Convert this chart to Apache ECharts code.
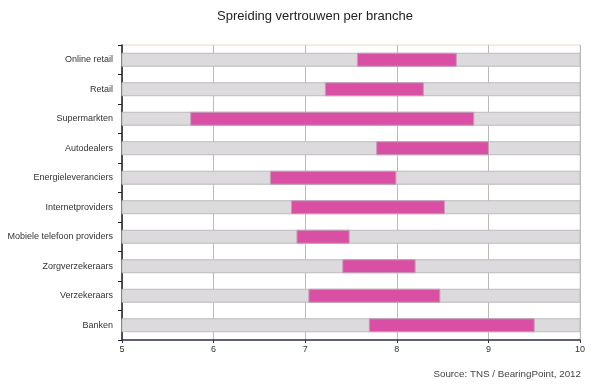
<!DOCTYPE html>
<html><head><meta charset="utf-8">
<script src="https://cdn.jsdelivr.net/npm/echarts@6/dist/echarts.min.js"></script>
<style>html,body{margin:0;padding:0;background:#fff}#c{width:595px;height:388px}</style>
</head><body><div id="c"></div>
<script>
var categories = ["Online retail","Retail","Supermarkten","Autodealers","Energieleveranciers","Internetproviders","Mobiele telefoon providers","Zorgverzekeraars","Verzekeraars","Banken"];
var lowValues  = [7.57, 7.22, 5.75, 7.78, 6.62, 6.85, 6.91, 7.41, 7.04, 7.70];
var highValues = [8.65, 8.29, 8.84, 9.00, 7.99, 8.52, 7.48, 8.20, 8.47, 9.50];
var axisMin = 5, axisMax = 10;

var chart = echarts.init(document.getElementById('c'), null, {renderer:'canvas'});
function rangeItem(fill, stroke, useRange){
  return function(params, api){
    var i = api.value(0);
    var lo = useRange ? api.value(1) : axisMin;
    var hi = useRange ? api.value(2) : axisMax;
    var p0 = api.coord([lo, i]);
    var p1 = api.coord([hi, i]);
    var h = api.size([0,1])[1] * 0.44;
    return {type:'rect', shape:{x:p0[0], y:p0[1]-h/2, width:p1[0]-p0[0], height:h},
      style:{fill:fill, stroke:stroke, lineWidth:1}};
  };
}
var data = categories.map(function(c,i){return [i, lowValues[i], highValues[i]];});
chart.setOption({
  animation:false,
  graphic:[
    {type:'text', x:315, y:16, style:{text:'Spreiding vertrouwen per branche', textAlign:'center', textVerticalAlign:'middle',
      font:'13px "Liberation Sans", Arial, sans-serif', fill:'#222'}},
    {type:'text', right:14, top:369, style:{text:'Source: TNS / BearingPoint, 2012',
    font:'9.8px "Liberation Sans", Arial, sans-serif', fill:'#444'}}],
  grid:{left:122, right:15, top:45, bottom:48, show:true, borderColor:'#e8dcc4', borderWidth:1},
  xAxis:{type:'value', min:axisMin, max:axisMax, interval:1,
    axisLine:{show:true, lineStyle:{color:'#2c3454', width:1.5}},
    axisTick:{show:true, length:3, lineStyle:{color:'#2c3454'}},
    axisLabel:{fontFamily:'Liberation Sans, Arial, sans-serif', fontSize:9, color:'#333', margin:5},
    splitLine:{show:true, lineStyle:{color:'#bdbab5', width:1}}},
  yAxis:{type:'category', data:categories, inverse:true,
    axisLine:{show:true, lineStyle:{color:'#222', width:1.5}},
    axisTick:{show:true, length:4, lineStyle:{color:'#222'}},
    axisLabel:{fontFamily:'Liberation Sans, Arial, sans-serif', fontSize:9, color:'#333', margin:9},
    splitLine:{show:false}},
  series:[
    {type:'custom', renderItem:rangeItem('#dcdadc','#bdbbbd',false), data:data, encode:{x:[1,2], y:0}, z:2},
    {type:'custom', renderItem:rangeItem('#d94fa3','#c0a0b8',true), data:data, encode:{x:[1,2], y:0}, z:3}
  ]
});
</script></body></html>
